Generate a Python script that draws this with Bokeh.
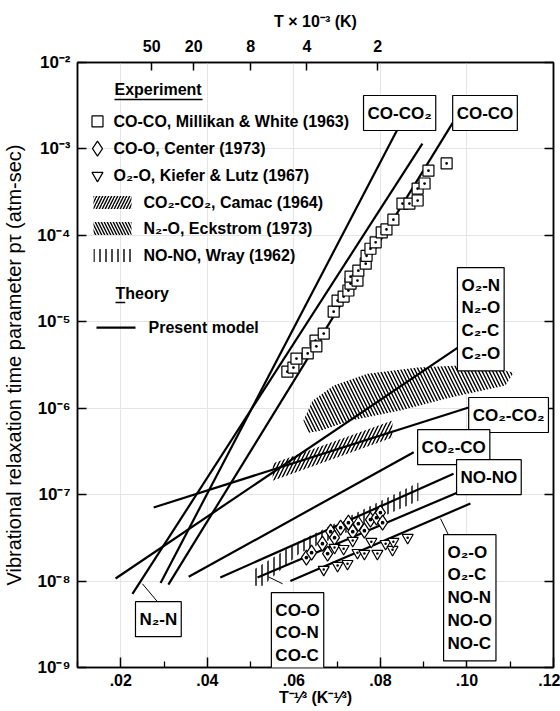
import numpy as np
from bokeh.plotting import figure
from bokeh.models import (Range1d, LogAxis, LinearAxis, FixedTicker,
                          CustomJSTickFormatter, Label)
from bokeh.core.properties import value
from bokeh.embed import file_html
from bokeh.resources import INLINE

FONT = "Liberation Sans"

# ---------------- data ----------------
# "Present model" theory lines: start and end points
model_names = ["CO-CO2", "CO-CO", "N2-N", "O2-N", "CO2-CO2", "CO2-CO", "NO-NO", "CO-O", "O2-O"]
model_x0 = [0.0292, 0.0310, 0.0227, 0.0188, 0.0276, 0.0357, 0.0430, 0.0516, 0.0592]
model_y0 = [9.5e-9, 9.1e-9, 7.1e-9, 1.07e-8, 7.1e-8, 1.12e-8, 1.1e-8, 1.1e-8, 1.0e-8]
model_x1 = [0.0842, 0.0967, 0.0897, 0.0978, 0.1004, 0.0877, 0.0969, 0.0999, 0.1008]
model_y1 = [1.78e-3, 2.0e-3, 1.15e-3, 5.0e-6, 1.02e-6, 3.1e-7, 1.74e-7, 1.17e-7, 7.9e-8]

# CO-CO, Millikan & White (1963)
coco_x = [0.0585, 0.0599, 0.0606, 0.0632, 0.0650, 0.0652, 0.0669, 0.0692, 0.0701, 0.0715,
          0.0726, 0.0731, 0.0731, 0.0747, 0.0749, 0.0766, 0.0768, 0.0777, 0.0789, 0.0803,
          0.0814, 0.0830, 0.0851, 0.0867, 0.0886, 0.0886, 0.0902, 0.0911, 0.0953]
coco_y = [2.65e-6, 2.95e-6, 3.75e-6, 4.3e-6, 6.05e-6, 5.2e-6, 7.3e-6, 1.31e-5, 1.76e-5, 1.96e-5,
          2.3e-5, 2.77e-5, 3.33e-5, 3.0e-5, 3.9e-5, 4.7e-5, 5.8e-5, 7.0e-5, 8.3e-5, 1.08e-4,
          1.17e-4, 1.52e-4, 2.33e-4, 2.33e-4, 2.53e-4, 3.48e-4, 3.98e-4, 5.6e-4, 6.8e-4]

# CO-O, Center (1973)
coo_x = [0.0629, 0.0641, 0.0666, 0.0678, 0.0685, 0.0694, 0.0708, 0.0726, 0.0736, 0.0749,
         0.0763, 0.0777, 0.0791, 0.0800, 0.0805]
coo_y = [1.87e-8, 2.13e-8, 2.71e-8, 2.08e-8, 3.73e-8, 3.18e-8, 4.15e-8, 4.74e-8, 3.73e-8, 4.61e-8,
         3.83e-8, 5.14e-8, 5.42e-8, 6.2e-8, 4.74e-8]

# O2-O, Kiefer & Lutz (1967)
o2o_x = [0.0669, 0.0701, 0.0724, 0.0694, 0.0715, 0.0747, 0.0763, 0.0793, 0.0779, 0.0812,
         0.0828, 0.0830, 0.0863, 0.0736]
o2o_y = [1.36e-8, 1.51e-8, 1.59e-8, 2.44e-8, 2.37e-8, 2.13e-8, 2.08e-8, 2.08e-8, 2.86e-8, 2.71e-8,
         2.31e-8, 2.86e-8, 3.18e-8, 2.94e-8]

# CO2-CO2, Camac (1964) -- hatched band
camac_x = [0.0551, 0.0828, 0.0828, 0.0551]
camac_y = [2.29e-7, 7.19e-7, 4.57e-7, 1.45e-7]

# N2-O, Eckstrom (1973) -- hatched region
eck_x = [0.0622, 0.0643, 0.0692, 0.0770, 0.0886, 0.1031, 0.1108, 0.1089, 0.0962, 0.0846,
         0.0731, 0.0662, 0.0634]
eck_y = [7.2e-7, 1.22e-6, 1.83e-6, 2.51e-6, 2.95e-6, 3.2e-6, 2.58e-6, 1.83e-6, 1.33e-6, 9.4e-7,
         7.2e-7, 5.5e-7, 5.2e-7]

# NO-NO, Wray (1962) -- hatched band
wray_x = [0.0504, 0.0504, 0.0615, 0.0731, 0.0888, 0.0888, 0.0731, 0.0615, 0.0528]
wray_y = [8.85e-9, 1.32e-8, 2.94e-8, 5.71e-8, 1.38e-7, 8.5e-8, 3.83e-8, 2.13e-8, 8.85e-9]

# axes
y_ticks = [1e-9, 1e-8, 1e-7, 1e-6, 1e-5, 1e-4, 1e-3, 1e-2]
x_ticks = [0.02, 0.04, 0.06, 0.08, 0.10, 0.12]
x_minor = [0.01, 0.03, 0.05, 0.07, 0.09, 0.11]
top_T_kK = [50, 20, 8, 4, 2]
top_ticks = [(t * 1000.0) ** (-1.0 / 3.0) for t in top_T_kK]

# ---------------- figure ----------------
p = figure(width=560, height=711, x_range=Range1d(0.01, 0.12), y_range=Range1d(1e-9, 1e-2),
           y_axis_type="log", x_axis_location=None, y_axis_location=None,
           output_backend="svg", toolbar_location=None,
           min_border_left=77, min_border_right=7, min_border_top=62, min_border_bottom=44)
p.outline_line_color = "black"
p.outline_line_width = 1.5
p.background_fill_color = "white"
p.border_fill_color = "white"

common = dict(axis_line_width=1.5, axis_line_color="black",
              major_tick_line_width=1.5, minor_tick_line_width=1.3,
              major_tick_out=0, minor_tick_out=0,
              major_label_text_font=FONT, major_label_text_font_style="bold",
              major_label_text_font_size="16px", major_label_text_color="black",
              axis_label_text_font=FONT, axis_label_text_font_style="bold",
              axis_label_text_font_size="16px", axis_label_text_color="black")

sup_js = """
const sup = {"-":"\u207b","0":"\u2070","1":"\u00b9","2":"\u00b2","3":"\u00b3","4":"\u2074",
             "5":"\u2075","6":"\u2076","7":"\u2077","8":"\u2078","9":"\u2079"};
const e = Math.round(Math.log10(tick));
return "10" + String(e).split("").map(c => sup[c]).join("");
"""

left = LogAxis(ticker=FixedTicker(ticks=y_ticks, minor_ticks=[]),
               formatter=CustomJSTickFormatter(code=sup_js),
               major_tick_in=9, major_label_standoff=7,
               axis_label="Vibrational relaxation time parameter p\u03c4 (atm-sec)",
               axis_label_standoff=9, **common)
left.axis_label_text_font_style = "normal"
left.axis_label_text_font_size = "20px"
left.major_label_text_font_size = "17px"
p.add_layout(left, "left")

right = LogAxis(ticker=FixedTicker(ticks=y_ticks, minor_ticks=[]),
                formatter=CustomJSTickFormatter(code='return "";'),
                major_tick_in=9, major_label_standoff=0, **common)
p.add_layout(right, "right")

bottom = LinearAxis(ticker=FixedTicker(ticks=x_ticks, minor_ticks=x_minor),
                    formatter=CustomJSTickFormatter(code='return tick.toFixed(2).replace(/^0/, "");'),
                    major_tick_in=10, minor_tick_in=6, major_label_standoff=6,
                    axis_label="T\u207b\u00b9\u2044\u00b3 (K\u207b\u00b9\u2044\u00b3)",
                    axis_label_standoff=0, **common)
p.add_layout(bottom, "below")

top = LinearAxis(ticker=FixedTicker(ticks=top_ticks, minor_ticks=[]),
                 formatter=CustomJSTickFormatter(code='return String(Math.round(Math.pow(tick, -3) / 1000));'),
                 major_tick_in=8, major_label_standoff=11,
                 axis_label="T \u00d7 10\u207b\u00b3 (K)", axis_label_standoff=7, **common)
p.add_layout(top, "above")

# ---------------- hatched experimental regions ----------------
hatch_common = dict(fill_alpha=0, line_alpha=0, hatch_color="black", hatch_weight=1.4)
p.patch(camac_x, camac_y, hatch_pattern="/", hatch_scale=7, **hatch_common)
p.patch(eck_x, eck_y, hatch_pattern="\\", hatch_scale=7, **hatch_common)
p.patch(wray_x, wray_y, hatch_pattern="|", hatch_scale=6, **hatch_common)

# ---------------- model lines ----------------
p.segment(model_x0, model_y0, model_x1, model_y1, line_color="black", line_width=2.2)

# ---------------- experimental points ----------------
p.scatter(coco_x, coco_y, marker="square_dot", size=11, fill_color="white",
          line_color="black", line_width=1.2)
p.scatter(coo_x, coo_y, marker="diamond_dot", size=15, fill_color="white",
          line_color="black", line_width=1.2)
p.scatter(o2o_x, o2o_y, marker="inverted_triangle", size=11, fill_color="white",
          line_color="black", line_width=1.2)
p.scatter(o2o_x, o2o_y, marker="circle", size=2.5, fill_color="black", line_color=None)

# ---------------- boxed line labels ----------------
box_style = dict(x_units="data", y_units="data", text_font=FONT, text_font_style="bold",
                 text_font_size="17px", text_color="black", text_align="left",
                 text_baseline="top", border_line_color="black", border_line_width=1.2,
                 background_fill_color="white", padding=(4, 8), text_line_height=1.2)
boxes = [
    ("CO-CO\u2082", 0.0761, 4.15e-3),
    ("CO-CO", 0.0967, 4.15e-3),
    ("O\u2082-N\nN\u2082-O\nC\u2082-C\nC\u2082-O", 0.0978, 4.24e-5),
    ("CO\u2082-CO\u2082", 0.1004, 1.33e-6),
    ("CO\u2082-CO", 0.0886, 5.65e-7),
    ("NO-NO", 0.0976, 2.54e-7),
    ("O\u2082-O\nO\u2082-C\nNO-N\nNO-O\nNO-C", 0.0946, 3.44e-8),
    ("CO-O\nCO-N\nCO-C", 0.0548, 7.35e-9),
    ("N\u2082-N", 0.0234, 5.78e-9),
]
for txt, bx, by in boxes:
    p.add_layout(Label(x=bx, y=by, text=txt, **box_style))

# leader lines from boxes to model lines
lead_x0 = [0.0287, 0.0574, 0.0957]
lead_y0 = [5.6e-9, 9.3e-9, 3.44e-8]
lead_x1 = [0.0250, 0.0541, 0.0939]
lead_y1 = [9.3e-9, 1.12e-8, 5.27e-8]
p.segment(lead_x0, lead_y0, lead_x1, lead_y1, line_color="black", line_width=1)

# ---------------- legend (drawn in place) ----------------
txt_style = dict(text_font=value(FONT), text_font_style="bold", text_font_size="16px",
                 text_color="black", text_baseline="middle", text_align="left")

p.text([0.01855, 0.01878], [4.87e-3, 2.12e-5], text=["Experiment", "Theory"], **txt_style)
p.segment([0.01855, 0.01878], [3.73e-3, 1.67e-5], [0.03889, 0.02103], [3.73e-3, 1.67e-5],
          line_color="black", line_width=1.5)

leg_mark_y = [2.08e-3, 1.01e-3, 4.92e-4]
p.scatter([0.01462], [leg_mark_y[0]], marker="square", size=11, fill_color="white",
          line_color="black", line_width=1.2)
p.scatter([0.01462], [leg_mark_y[1]], marker="diamond", size=15, fill_color="white",
          line_color="black", line_width=1.2)
p.scatter([0.01462], [leg_mark_y[2]], marker="inverted_triangle", size=11, fill_color="white",
          line_color="black", line_width=1.2)
p.text([0.01832] * 3, leg_mark_y,
       text=["CO-CO, Millikan & White (1963)", "CO-O, Center (1973)",
             "O\u2082-O, Kiefer & Lutz (1967)"], **txt_style)

leg_hatch_y = [2.40e-4, 1.20e-4, 5.83e-5]
for yy, pat in zip(leg_hatch_y, ["/", "\\", "|"]):
    p.rect([0.01809], [yy], width=38, height=13, width_units="screen", height_units="screen",
           hatch_pattern=pat, hatch_scale=6, **hatch_common)
p.text([0.02525] * 3, leg_hatch_y,
       text=["CO\u2082-CO\u2082, Camac (1964)", "N\u2082-O, Eckstrom (1973)",
             "NO-NO, Wray (1962)"], **txt_style)

p.segment([0.01439], [8.57e-6], [0.0234], [8.57e-6], line_color="black", line_width=2.2)
p.text([0.02641], [8.57e-6], text=["Present model"], **txt_style)

with open("out.html", "w", encoding="utf-8") as f:
    f.write(file_html(p, INLINE))
